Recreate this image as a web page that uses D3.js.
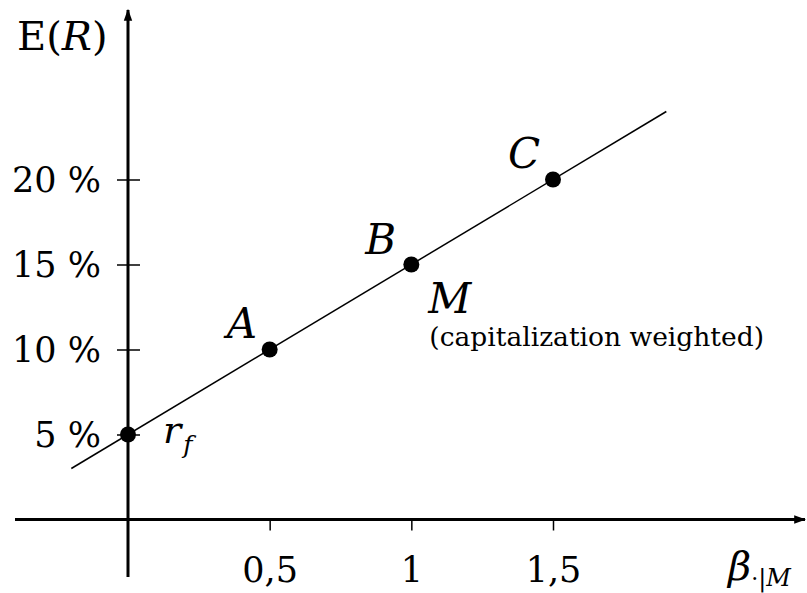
<!DOCTYPE html>
<html>
<head>
<meta charset="utf-8">
<script src="https://cdn.jsdelivr.net/npm/d3@7"></script>
<style>
body { margin:0; background:#fff; }
svg text { font-family: "DejaVu Serif", "Liberation Serif", serif; fill:#000; }
</style>
</head>
<body>
<svg id="chart" width="807" height="593"></svg>
<script>
// data
var pointNames = ["rf", "A", "B", "C"];
var pointBetas = [0, 0.5, 1, 1.5];
var pointReturns = [5, 10, 15, 20];
var smlBetas = [-0.2, 1.9];     // ends of the security market line
var smlReturns = [3, 24];
var xTicks = [0.5, 1, 1.5];
var xTickLabels = ["0,5", "1", "1,5"];
var yTicks = [5, 10, 15, 20];
var yTickLabels = ["5 %", "10 %", "15 %", "20 %"];

var FONT = "DejaVu Serif";
var svg = d3.select("#chart");

var x = d3.scaleLinear().domain([0, 1.5]).range([128, 553]);
var y = d3.scaleLinear().domain([0, 20]).range([519.5, 179.5]);

// arrow head
svg.append("defs").append("marker")
  .attr("id", "arrow").attr("viewBox", "0 0 10 10")
  .attr("refX", 9).attr("refY", 5)
  .attr("markerWidth", 4).attr("markerHeight", 4)
  .attr("orient", "auto-start-reverse")
  .append("path").attr("d", "M0,1.5 L10,5 L0,8.5 Z").attr("fill", "#000");

// axis lines
svg.append("line")
  .attr("x1", 15).attr("x2", 805)
  .attr("y1", y(0)).attr("y2", y(0))
  .attr("stroke", "#000").attr("stroke-width", 3)
  .attr("marker-end", "url(#arrow)");
svg.append("line")
  .attr("x1", x(0)).attr("x2", x(0))
  .attr("y1", 577).attr("y2", 10)
  .attr("stroke", "#000").attr("stroke-width", 3)
  .attr("marker-end", "url(#arrow)");

// x ticks
var xAxis = d3.axisBottom(x).tickValues(xTicks).tickSize(11)
  .tickFormat(function(d, i){ return xTickLabels[i]; });
var gx = svg.append("g").attr("transform", "translate(0," + y(0) + ")").call(xAxis)
  .attr("font-family", FONT);
gx.select(".domain").remove();
gx.selectAll(".tick line").attr("stroke-width", 1.5);
gx.selectAll(".tick text")
  .attr("y", 62).attr("dy", null)
  .style("font-size", "35px");

// y ticks (crossing the axis)
var yAxis = d3.axisLeft(y).tickValues(yTicks).tickSize(11)
  .tickFormat(function(d, i){ return yTickLabels[i]; });
var gy = svg.append("g").attr("transform", "translate(" + x(0) + ",0)").call(yAxis)
  .attr("font-family", FONT);
gy.select(".domain").remove();
gy.selectAll(".tick line").attr("x1", 12).attr("stroke-width", 1.5);
gy.selectAll(".tick text")
  .attr("x", -27).attr("dy", "0.35em")
  .style("font-size", "35px");

// security market line
var line = d3.line()
  .x(function(d){ return x(d[0]); })
  .y(function(d){ return y(d[1]); });
svg.append("path")
  .attr("d", line(d3.zip(smlBetas, smlReturns)))
  .attr("fill", "none").attr("stroke", "#000").attr("stroke-width", 1.5);

// points
svg.selectAll("circle.pt")
  .data(d3.range(pointNames.length))
  .enter().append("circle")
  .attr("class", "pt")
  .attr("cx", function(i){ return x(pointBetas[i]); })
  .attr("cy", function(i){ return y(pointReturns[i]); })
  .attr("r", 8).attr("fill", "#000");

// point labels
function label(txt, px, py, size, italic){
  return svg.append("text").attr("x", px).attr("y", py)
    .style("font-size", size + "px")
    .style("font-style", italic ? "italic" : "normal")
    .text(txt);
}
label("A", x(pointBetas[1]) - 43, y(pointReturns[1]) - 12, 42, true);
label("B", x(pointBetas[2]) - 46, y(pointReturns[2]) - 11, 42, true);
label("C", x(pointBetas[3]) - 45, y(pointReturns[3]) - 12, 42, true);
label("M", x(pointBetas[2]) + 17, y(pointReturns[2]) + 48, 42, true);
label("(capitalization weighted)", x(pointBetas[2]) + 18, y(pointReturns[2]) + 81, 26.5, false);

var rf = svg.append("text").attr("x", 163).attr("y", y(pointReturns[0]) + 8)
  .style("font-size", "38px").style("font-style", "italic");
rf.append("tspan").text("r");
rf.append("tspan").attr("dy", 10).attr("dx", 2).style("font-size", "25px").text("f");

// axis titles
var ey = svg.append("text").attr("x", 17).attr("y", 50).style("font-size", "40px");
ey.append("tspan").text("E(");
ey.append("tspan").style("font-style", "italic").text("R");
ey.append("tspan").text(")");

var bx = svg.append("text").attr("x", 728).attr("y", 580).style("font-size", "40px");
bx.append("tspan").style("font-style", "italic").text("β");
bx.append("tspan").attr("dy", 6).style("font-size", "22px").text("·");
bx.append("tspan").style("font-size", "24px").text("|");
bx.append("tspan").style("font-size", "24px").style("font-style", "italic").text("M");
</script>
</body>
</html>
